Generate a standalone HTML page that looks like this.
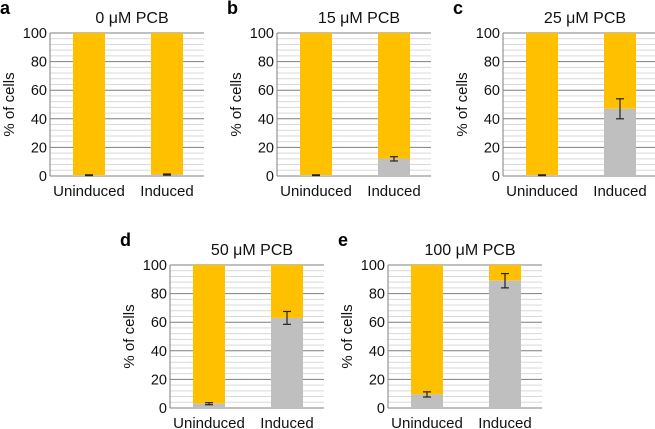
<!DOCTYPE html>
<html><head><meta charset="utf-8"><style>
body{margin:0;background:#fff;}
svg{display:block;font-family:"Liberation Sans",sans-serif;}
</style></head><body>
<svg id="fig" width="655" height="429" viewBox="0 0 655 429"></svg>
<script>
const panelLetters=["a","b","c","d","e"];
const panelTitles=["0 μM PCB","15 μM PCB","25 μM PCB","50 μM PCB","100 μM PCB"];
const categories=["Uninduced","Induced"];
const grayValues=[[0.5,1],[0.5,12],[0.5,47],[3,63],[9.5,89]];
const errValues=[[0.3,0.4],[0.3,1.5],[0.3,7],[0.7,4.5],[1.8,5]];
const yTicks=[0,20,40,60,80,100];
const layout=[[50,33],[277,33],[503,33],[170,265],[388,265]];
const W=154,H=143;
const NS="http://www.w3.org/2000/svg";
const svg=document.getElementById('fig');
function mk(t,a,p){const e=document.createElementNS(NS,t);for(const k in a)e.setAttribute(k,a[k]);(p||svg).appendChild(e);return e;}
panelLetters.forEach((L,i)=>{
  const [x0,y0]=layout[i];
  const g=mk('g',{});
  
  
  const y=v=>y0+H-v/100*H;
  for(let v=0;v<=100;v+=4){if(v%20)mk('line',{x1:x0,x2:x0+W,y1:y(v),y2:y(v),stroke:'#d9d9d9','stroke-width':1},g);}
  yTicks.forEach(v=>{
    mk('line',{x1:x0,x2:x0+W,y1:y(v),y2:y(v),stroke:'#7f7f7f','stroke-width':1},g);
    const t=mk('text',{x:x0-3,y:y(v)+5,'text-anchor':'end','font-size':14.5,fill:'#111'},g);t.textContent=v;
    
    
  });
  mk('line',{x1:x0,x2:x0,y1:y0,y2:y0+H,stroke:'#7f7f7f','stroke-width':1},g);
  const lt=mk('text',{x:x0-50,y:y0-19,'font-size':18,'font-weight':'bold',fill:'#000'},g);lt.textContent=L;
  
  
  const tt=mk('text',{x:x0+W/2+5,y:y0-10,'text-anchor':'middle','font-size':16,fill:'#111'},g);tt.textContent=panelTitles[i];
  
  
  const yt=mk('text',{x:0,y:0,'text-anchor':'middle','font-size':15,fill:'#111',transform:`translate(${x0-36},${y0+H/2}) rotate(-90)`},g);yt.textContent="% of cells";
  
  
  categories.forEach((c,j)=>{
    const bx=x0+23+j*78,bw=32,gv=grayValues[i][j],ev=errValues[i][j];
    const r1=mk('rect',{x:bx,y:y(100),width:bw,height:y(gv)-y(100),fill:'#FFC000'},g);
    
    
    const r2=mk('rect',{x:bx,y:y(gv),width:bw,height:y(0)-y(gv),fill:'#BFBFBF'},g);
    
    
    const cx=bx+bw/2;
    mk('line',{x1:cx,x2:cx,y1:y(gv+ev),y2:y(gv-ev),stroke:'#222','stroke-width':1.2},g);
    mk('line',{x1:cx-4,x2:cx+4,y1:y(gv+ev),y2:y(gv+ev),stroke:'#222','stroke-width':1.2},g);
    mk('line',{x1:cx-4,x2:cx+4,y1:y(gv-ev),y2:y(gv-ev),stroke:'#222','stroke-width':1.2},g);
    const ct=mk('text',{x:cx,y:y0+H+20,'text-anchor':'middle','font-size':15,fill:'#111'},g);ct.textContent=c;
    
    
  });
});
</script>
</body></html>
